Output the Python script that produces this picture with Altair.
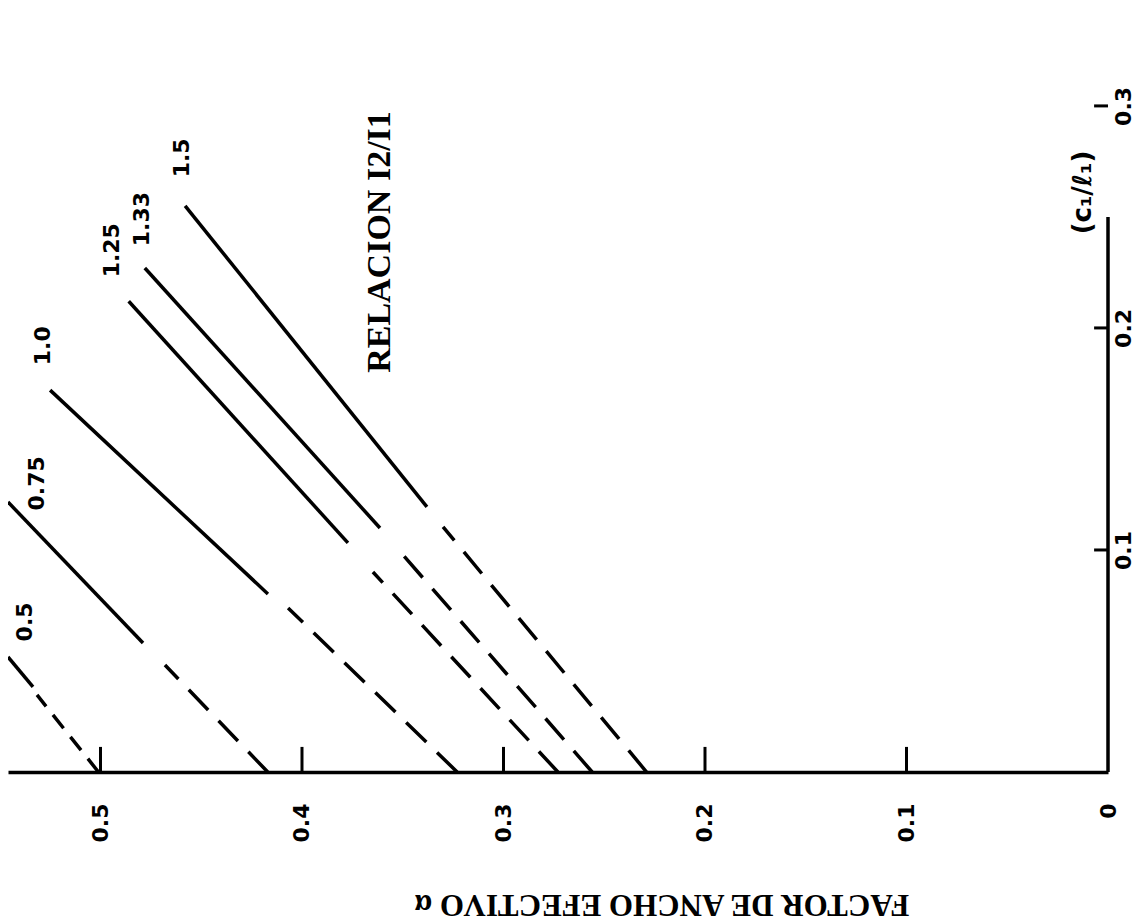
import altair as alt
import pandas as pd

# Relación I2/I1 curves: alpha (effective width factor) vs c1/l1
ratios = ["0.5", "0.75", "1.0", "1.25", "1.33", "1.5"]
alpha_base = [0.501, 0.417, 0.323, 0.273, 0.256, 0.229]      # at c1/l1 = 0
alpha_dash_top = [0.5315, 0.468, 0.4069, 0.3648, 0.3529, 0.330]
c_dash_top = [0.0347, 0.0482, 0.0739, 0.0901, 0.1009, 0.1104]
alpha_solid_start = [0.5335, 0.4789, 0.4169, 0.3772, 0.3613, 0.338]
c_solid_start = [0.0383, 0.0581, 0.0802, 0.1032, 0.1099, 0.1194]
alpha_top = [0.5459, 0.5459, 0.525, 0.486, 0.478, 0.458]
c_top = [0.0518, 0.1216, 0.172, 0.212, 0.227, 0.255]

label_alpha = [0.5375, 0.5315, 0.5285, 0.4943, 0.4794, 0.4596]
label_c = [0.0676, 0.130, 0.192, 0.235, 0.249, 0.2766]

alpha_ticks = [0.0, 0.1, 0.2, 0.3, 0.4, 0.5]
c_ticks = [0.1, 0.2, 0.3]

A_MAX = 0.5459
C_MAX = 0.3441

dashed = pd.DataFrame({"ratio": ratios, "a1": alpha_base, "c1": [0.0] * 6,
                       "a2": alpha_dash_top, "c2": c_dash_top})
solid = pd.DataFrame({"ratio": ratios, "a1": alpha_solid_start, "c1": c_solid_start,
                      "a2": alpha_top, "c2": c_top})
labels = pd.DataFrame({"ratio": ratios, "a": label_alpha, "c": label_c})

xscale = alt.Scale(domain=[0, A_MAX], reverse=True, nice=False, zero=False)
yscale = alt.Scale(domain=[0, C_MAX], nice=False, zero=False)

xaxis = alt.Axis(
    values=alpha_ticks,
    labelExpr="datum.value == 0 ? '0' : format(datum.value, '.1f')",
    labelAngle=270, labelAlign="right", labelBaseline="middle",
    labelPadding=31, ticks=False, grid=False,
    domainColor="black", domainWidth=3.5,
    labelFont="DejaVu Sans", labelFontWeight="bold", labelFontSize=22,
    labelColor="black", labelOverlap=False, labelFlush=False,
    title=None,
)
yaxis = alt.Axis(
    orient="right", values=c_ticks, format=".1f",
    labelAngle=270, labelAlign="center", labelBaseline="top",
    labelPadding=5, ticks=False, domain=False, grid=False, title=None,
    labelFont="DejaVu Sans", labelFontWeight="bold", labelFontSize=22,
    labelColor="black", labelOverlap=False, labelFlush=False,
)

base_axes = alt.Chart(pd.DataFrame({"a": [0.0], "c": [0.0]})).mark_point(opacity=0).encode(
    x=alt.X("a:Q", scale=xscale, axis=xaxis),
    y=alt.Y("c:Q", scale=yscale, axis=yaxis),
)

dash_main = alt.Chart(dashed).transform_filter("datum.ratio != '0.5'").mark_rule(
    color="black", strokeWidth=3.5, strokeDash=[28, 15], clip=True
).encode(x=alt.X("a1:Q", scale=xscale), y=alt.Y("c1:Q", scale=yscale), x2="a2:Q", y2="c2:Q")

dash_half = alt.Chart(dashed).transform_filter("datum.ratio == '0.5'").mark_rule(
    color="black", strokeWidth=3.5, strokeDash=[17, 11], clip=True
).encode(x=alt.X("a1:Q", scale=xscale), y=alt.Y("c1:Q", scale=yscale), x2="a2:Q", y2="c2:Q")

solid_lines = alt.Chart(solid).mark_rule(color="black", strokeWidth=3.5, clip=True).encode(
    x=alt.X("a1:Q", scale=xscale), y=alt.Y("c1:Q", scale=yscale), x2="a2:Q", y2="c2:Q"
)

# inward ticks on the alpha axis and the c1/l1 axis
xt = pd.DataFrame({"a": [0.1, 0.2, 0.3, 0.4, 0.5], "c1": [0.0] * 5, "c2": [0.0113] * 5})
xticks = alt.Chart(xt).mark_rule(color="black", strokeWidth=3).encode(
    x=alt.X("a:Q", scale=xscale), y=alt.Y("c1:Q", scale=yscale), y2="c2:Q"
)
yt = pd.DataFrame({"c": c_ticks, "a1": [0.0] * 3, "a2": [0.0069] * 3})
yticks = alt.Chart(yt).mark_rule(color="black", strokeWidth=3).encode(
    y=alt.Y("c:Q", scale=yscale), x=alt.X("a1:Q", scale=xscale), x2="a2:Q"
)
yline = alt.Chart(pd.DataFrame({"a": [0.0], "c1": [0.0], "c2": [0.25]})).mark_rule(
    color="black", strokeWidth=3.5
).encode(x=alt.X("a:Q", scale=xscale), y=alt.Y("c1:Q", scale=yscale), y2="c2:Q")

curve_labels = alt.Chart(labels).mark_text(
    angle=270, font="DejaVu Sans", fontWeight="bold", fontSize=22,
    align="center", baseline="middle", color="black"
).encode(x=alt.X("a:Q", scale=xscale), y=alt.Y("c:Q", scale=yscale), text="ratio:N")

relacion = alt.Chart(pd.DataFrame({"a": [0.3613], "c": [0.2387], "t": ["RELACION I2/I1"]})).mark_text(
    angle=270, font="Liberation Serif", fontWeight="bold", fontSize=34,
    align="center", baseline="middle", color="black"
).encode(x=alt.X("a:Q", scale=xscale), y=alt.Y("c:Q", scale=yscale), text="t:N")

ctitle = alt.Chart(pd.DataFrame({"a": [0.0124], "c": [0.261], "t": ["(c₁/ℓ₁)"]})).mark_text(
    angle=270, font="DejaVu Sans", fontWeight="bold", fontSize=26,
    align="center", baseline="middle", color="black"
).encode(x=alt.X("a:Q", scale=xscale), y=alt.Y("c:Q", scale=yscale), text="t:N")

# upside-down axis title below the alpha axis
alpha_title = alt.Chart(pd.DataFrame({"a": [0.2213], "c": [-0.0595],
                                      "t": ["FACTOR DE ANCHO EFECTIVO α"]})).mark_text(
    angle=180, font="Liberation Serif", fontWeight="bold", fontSize=31,
    align="center", baseline="middle", color="black"
).encode(x=alt.X("a:Q", scale=xscale), y=alt.Y("c:Q", scale=yscale), text="t:N")

chart = alt.layer(
    base_axes, dash_main, dash_half, solid_lines, xticks, yticks, yline,
    curve_labels, relacion, ctitle, alpha_title
).properties(width=1100, height=764, padding=0, background="white").configure_view(stroke=None)

chart.save("out.html", embed_options={"renderer": "svg", "actions": False})
